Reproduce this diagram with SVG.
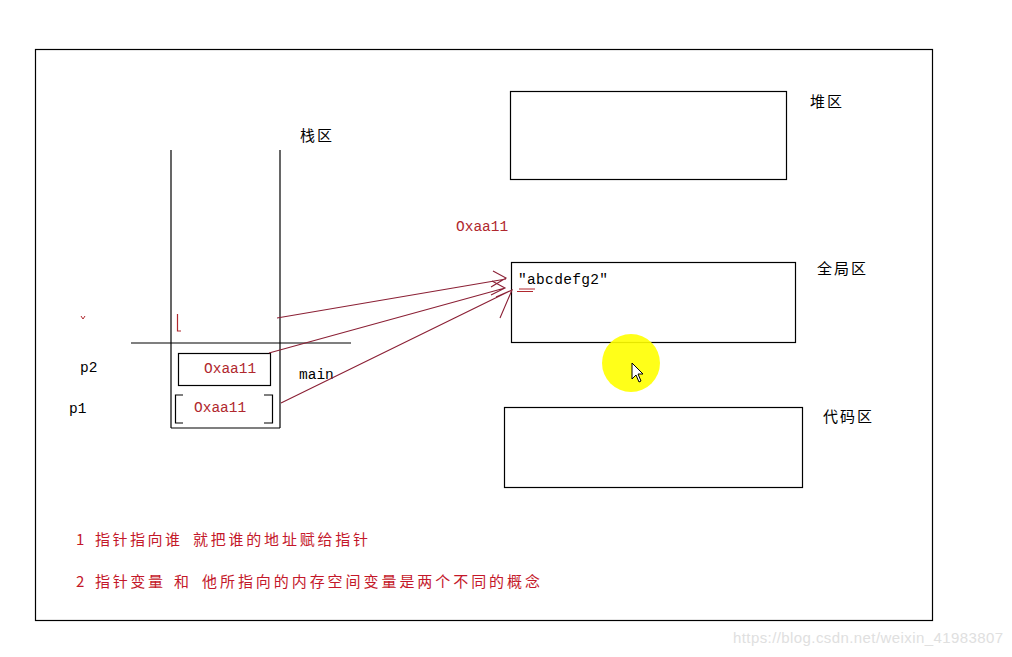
<svg xmlns="http://www.w3.org/2000/svg" width="1012" height="657" viewBox="0 0 1012 657">
<style>
.blk{fill:none;stroke:#000;stroke-width:1.2}
.cn{font-family:"Noto Sans CJK SC","Noto Sans CJK JP",sans-serif;font-size:15px;letter-spacing:2px;fill:#000}
.mono{font-family:"Liberation Mono",monospace;font-size:14.5px;fill:#000}
.red{fill:#b0282e}
.note{font-family:"Noto Sans CJK SC",sans-serif;font-size:15px;fill:#c4182a}
.arr{fill:none;stroke:#8b2035;stroke-width:1.1}
</style>
<rect width="1012" height="657" fill="#fff"/>
<rect id="frame" x="35.5" y="49.5" width="897" height="571" class="blk"/>

<g id="stack">
<line x1="171" y1="150" x2="171" y2="428" class="blk"/>
<line x1="280" y1="150" x2="280" y2="428" class="blk"/>
<line x1="171" y1="428" x2="280" y2="428" class="blk"/>
<line x1="131" y1="343" x2="351" y2="343" class="blk"/>
<text x="300" y="141" class="cn">栈区</text>
<text x="299" y="379" class="mono">main</text>
<path d="M177.5 314 V331 H181" fill="none" stroke="#b0282e" stroke-width="1.2"/>
<path d="M81 316 l2 3 l2 -3" fill="none" stroke="#b0282e" stroke-width="1"/>
</g>

<g id="p2">
<rect x="178.5" y="353.5" width="92" height="32" class="blk"/>
<text x="204" y="373" class="mono red">Oxaa11</text>
<text x="80" y="372" class="mono">p2</text>
</g>

<g id="p1">
<path d="M183 395 H175.5 V423 H183 M264 395 H272.5 V423 H264" class="blk"/>
<text x="194" y="412" class="mono red">Oxaa11</text>
<text x="69" y="413" class="mono">p1</text>
</g>

<g id="heap">
<rect x="510.5" y="91.5" width="276" height="88" class="blk"/>
<text x="810" y="107" class="cn">堆区</text>
</g>

<g id="global">
<rect x="511.5" y="262.5" width="284" height="80" class="blk"/>
<text x="817" y="274" class="cn">全局区</text>
<text x="518" y="284" class="mono" textLength="90">"abcdefg2"</text>
<path d="M519 289 H535 M517 291.5 H533" fill="none" stroke="#b0282e" stroke-width="1"/>
</g>

<g id="code">
<rect x="504.5" y="407.5" width="298" height="80" class="blk"/>
<text x="823" y="422" class="cn">代码区</text>
</g>

<text id="addr" x="456" y="231" class="mono red">Oxaa11</text>

<g id="connectors">
<path d="M277 318 L506 279 M493 271 L506 278 L491 287" class="arr"/>
<path d="M269 353 L505 288 M492 281 L505 288 L491 295" class="arr"/>
<path d="M281 403 L512 290 M496 297 L512 290 L500 318" class="arr"/>
</g>

<g id="notes">
<text y="545" class="note"><tspan x="76">1</tspan><tspan x="95" textLength="85" lengthAdjust="spacing">指针指向谁</tspan><tspan x="193" textLength="175" lengthAdjust="spacing">就把谁的地址赋给指针</tspan></text>
<text y="587" class="note"><tspan x="76">2</tspan><tspan x="95" textLength="68" lengthAdjust="spacing">指针变量</tspan><tspan x="174">和</tspan><tspan x="202" textLength="338" lengthAdjust="spacing">他所指向的内存空间变量是两个不同的概念</tspan></text>
</g>

<g id="cursor">
<circle cx="631" cy="363" r="29" fill="#ffff00" opacity="0.9"/>
<path d="M632 363 V379 L636 375 L639 382 L641 381 L638 374 L643 374 Z" fill="#fff" stroke="#000" stroke-width="1"/>
</g>

<text x="733" y="643" font-family="Liberation Sans,sans-serif" font-size="15px" fill="#e0e0e0" textLength="270">https://blog.csdn.net/weixin_41983807</text>
</svg>
